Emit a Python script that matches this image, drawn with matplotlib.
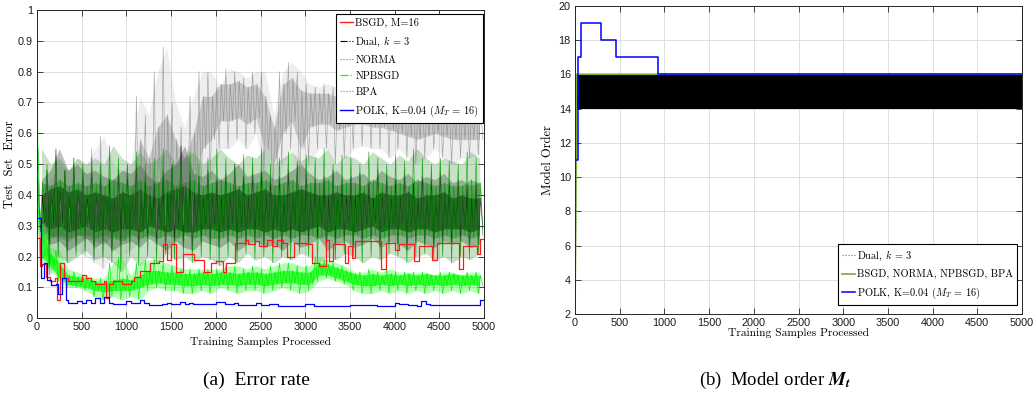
import numpy as np
import matplotlib
matplotlib.use('Agg')
import matplotlib.pyplot as plt

# ---------------- data ----------------
bin_starts = list(range(0, 5000, 100))   # 100-sample bins for the noisy series

# outer envelope (spike extremes) and inner (dense core) per bin
dual_hi = [0.45, 0.48, 0.55, 0.48, 0.50, 0.47, 0.48, 0.46, 0.45, 0.48,
           0.47, 0.50, 0.46, 0.44, 0.48, 0.50, 0.56, 0.47, 0.46, 0.48,
           0.45, 0.47, 0.50, 0.46, 0.47, 0.48, 0.45, 0.46, 0.48, 0.50,
           0.47, 0.45, 0.46, 0.48, 0.45, 0.46, 0.47, 0.44, 0.48, 0.46,
           0.45, 0.47, 0.44, 0.46, 0.45, 0.47, 0.44, 0.45, 0.43, 0.44]
dual_lo = [0.28, 0.24, 0.25, 0.22, 0.24, 0.26, 0.23, 0.25, 0.22, 0.24,
           0.25, 0.23, 0.26, 0.24, 0.22, 0.25, 0.23, 0.22, 0.25, 0.24,
           0.23, 0.25, 0.22, 0.24, 0.25, 0.23, 0.24, 0.22, 0.25, 0.23,
           0.24, 0.26, 0.22, 0.24, 0.25, 0.23, 0.24, 0.26, 0.23, 0.25,
           0.24, 0.22, 0.25, 0.24, 0.23, 0.25, 0.24, 0.25, 0.23, 0.24]
dual_in_hi = [0.40, 0.42, 0.43, 0.41, 0.42, 0.40, 0.41, 0.40, 0.39, 0.41,
              0.40, 0.42, 0.40, 0.39, 0.41, 0.42, 0.43, 0.41, 0.40, 0.41,
              0.40, 0.41, 0.42, 0.40, 0.41, 0.42, 0.40, 0.40, 0.41, 0.42,
              0.41, 0.40, 0.40, 0.41, 0.40, 0.40, 0.41, 0.39, 0.41, 0.40,
              0.40, 0.41, 0.39, 0.40, 0.40, 0.41, 0.39, 0.40, 0.39, 0.39]
dual_in_lo = [0.31, 0.29, 0.30, 0.28, 0.29, 0.30, 0.28, 0.29, 0.28, 0.29,
              0.29, 0.28, 0.30, 0.29, 0.28, 0.29, 0.28, 0.28, 0.29, 0.29,
              0.28, 0.29, 0.28, 0.29, 0.29, 0.28, 0.29, 0.28, 0.29, 0.28,
              0.29, 0.30, 0.28, 0.29, 0.29, 0.28, 0.29, 0.30, 0.28, 0.29,
              0.29, 0.28, 0.29, 0.29, 0.28, 0.29, 0.29, 0.29, 0.28, 0.29]

norma_hi = [0.55, 0.50, 0.52, 0.48, 0.52, 0.50, 0.52, 0.50, 0.56, 0.52,
            0.50, 0.54, 0.50, 0.52, 0.55, 0.50, 0.52, 0.54, 0.50, 0.52,
            0.55, 0.52, 0.50, 0.53, 0.52, 0.55, 0.50, 0.52, 0.54, 0.51,
            0.53, 0.52, 0.55, 0.50, 0.53, 0.52, 0.50, 0.54, 0.52, 0.50,
            0.53, 0.51, 0.55, 0.52, 0.50, 0.52, 0.51, 0.50, 0.54, 0.52]
norma_lo = [0.30, 0.14, 0.20, 0.18, 0.20, 0.22, 0.19, 0.20, 0.18, 0.15,
            0.20, 0.17, 0.20, 0.18, 0.21, 0.19, 0.20, 0.18, 0.20, 0.19,
            0.17, 0.20, 0.18, 0.21, 0.19, 0.20, 0.18, 0.20, 0.19, 0.21,
            0.20, 0.18, 0.20, 0.19, 0.21, 0.20, 0.18, 0.20, 0.19, 0.21,
            0.20, 0.18, 0.20, 0.21, 0.19, 0.20, 0.18, 0.20, 0.19, 0.21]
norma_in_hi = [0.44, 0.43, 0.45, 0.43, 0.44, 0.43, 0.44, 0.43, 0.45, 0.44,
               0.43, 0.45, 0.43, 0.44, 0.45, 0.43, 0.44, 0.45, 0.43, 0.44,
               0.45, 0.44, 0.43, 0.44, 0.44, 0.45, 0.43, 0.44, 0.45, 0.43,
               0.44, 0.44, 0.45, 0.43, 0.44, 0.44, 0.43, 0.45, 0.44, 0.43,
               0.44, 0.43, 0.45, 0.44, 0.43, 0.44, 0.43, 0.43, 0.45, 0.44]
norma_in_lo = [0.32, 0.26, 0.27, 0.26, 0.27, 0.27, 0.26, 0.27, 0.26, 0.25,
               0.27, 0.26, 0.27, 0.26, 0.27, 0.26, 0.27, 0.26, 0.27, 0.26,
               0.26, 0.27, 0.26, 0.27, 0.26, 0.27, 0.26, 0.27, 0.26, 0.27,
               0.27, 0.26, 0.27, 0.26, 0.27, 0.27, 0.26, 0.27, 0.26, 0.27,
               0.27, 0.26, 0.27, 0.27, 0.26, 0.27, 0.26, 0.27, 0.26, 0.27]

npbsgd_hi = [0.35, 0.23, 0.22, 0.16, 0.15, 0.14, 0.13, 0.13, 0.18, 0.20,
             0.14, 0.18, 0.19, 0.19, 0.18, 0.17, 0.16, 0.16, 0.16, 0.16,
             0.16, 0.17, 0.17, 0.16, 0.17, 0.16, 0.17, 0.18, 0.18, 0.17,
             0.17, 0.20, 0.19, 0.18, 0.17, 0.15, 0.15, 0.16, 0.15, 0.16,
             0.15, 0.15, 0.15, 0.15, 0.14, 0.15, 0.15, 0.14, 0.15, 0.15]
npbsgd_lo = [0.18, 0.16, 0.12, 0.10, 0.10, 0.09, 0.07, 0.06, 0.07, 0.06,
             0.07, 0.06, 0.09, 0.10, 0.09, 0.09, 0.08, 0.08, 0.09, 0.08,
             0.10, 0.09, 0.08, 0.09, 0.09, 0.08, 0.09, 0.10, 0.09, 0.08,
             0.09, 0.12, 0.13, 0.12, 0.11, 0.09, 0.08, 0.08, 0.09, 0.08,
             0.09, 0.08, 0.09, 0.08, 0.09, 0.08, 0.09, 0.08, 0.09, 0.08]
npbsgd_in_hi = [0.30, 0.21, 0.18, 0.14, 0.135, 0.13, 0.12, 0.115, 0.125, 0.13,
                0.125, 0.14, 0.155, 0.155, 0.15, 0.15, 0.145, 0.145, 0.15, 0.145,
                0.15, 0.15, 0.145, 0.15, 0.15, 0.145, 0.15, 0.155, 0.155, 0.15,
                0.15, 0.18, 0.175, 0.165, 0.155, 0.145, 0.14, 0.145, 0.14, 0.145,
                0.14, 0.145, 0.14, 0.145, 0.14, 0.14, 0.145, 0.14, 0.14, 0.14]
npbsgd_in_lo = [0.20, 0.17, 0.13, 0.11, 0.105, 0.10, 0.09, 0.085, 0.09, 0.09,
                0.09, 0.10, 0.11, 0.115, 0.11, 0.11, 0.105, 0.105, 0.11, 0.105,
                0.11, 0.11, 0.105, 0.11, 0.11, 0.105, 0.11, 0.115, 0.115, 0.11,
                0.11, 0.14, 0.14, 0.13, 0.12, 0.11, 0.105, 0.105, 0.11, 0.105,
                0.11, 0.105, 0.11, 0.105, 0.11, 0.105, 0.11, 0.105, 0.11, 0.105]
npbsgd_head_x = [0, 5, 15]
npbsgd_head_y = [0.55, 0.80, 0.34]

bpa_hi = [0.42, 0.45, 0.50, 0.48, 0.52, 0.50, 0.55, 0.59, 0.50, 0.48,
          0.50, 0.72, 0.66, 0.80, 0.88, 0.70, 0.62, 0.72, 0.80, 0.80,
          0.75, 0.81, 0.80, 0.78, 0.80, 0.80, 0.66, 0.80, 0.83, 0.80,
          0.76, 0.75, 0.76, 0.75, 0.74, 0.76, 0.75, 0.74, 0.75, 0.74,
          0.72, 0.74, 0.73, 0.74, 0.72, 0.71, 0.70, 0.72, 0.70, 0.70]
bpa_lo = [0.25, 0.22, 0.20, 0.18, 0.22, 0.20, 0.18, 0.16, 0.22, 0.20,
          0.22, 0.25, 0.28, 0.26, 0.30, 0.25, 0.30, 0.28, 0.40, 0.45,
          0.55, 0.55, 0.58, 0.55, 0.60, 0.45, 0.40, 0.50, 0.55, 0.42,
          0.50, 0.55, 0.55, 0.50, 0.52, 0.55, 0.56, 0.55, 0.55, 0.52,
          0.55, 0.52, 0.50, 0.52, 0.55, 0.52, 0.50, 0.52, 0.52, 0.53]
bpa_in_hi = [0.36, 0.37, 0.38, 0.36, 0.38, 0.37, 0.38, 0.40, 0.37, 0.36,
             0.38, 0.58, 0.52, 0.62, 0.66, 0.58, 0.52, 0.60, 0.72, 0.72,
             0.76, 0.76, 0.77, 0.75, 0.76, 0.72, 0.62, 0.76, 0.78, 0.74,
             0.73, 0.73, 0.73, 0.72, 0.72, 0.73, 0.72, 0.72, 0.72, 0.71,
             0.70, 0.70, 0.70, 0.70, 0.69, 0.69, 0.68, 0.69, 0.68, 0.68]
bpa_in_lo = [0.28, 0.27, 0.26, 0.25, 0.27, 0.26, 0.25, 0.24, 0.27, 0.26,
             0.28, 0.36, 0.36, 0.38, 0.40, 0.36, 0.38, 0.40, 0.55, 0.58,
             0.64, 0.64, 0.65, 0.63, 0.65, 0.55, 0.50, 0.60, 0.64, 0.55,
             0.62, 0.63, 0.63, 0.61, 0.62, 0.63, 0.63, 0.62, 0.62, 0.61,
             0.60, 0.59, 0.58, 0.59, 0.60, 0.59, 0.58, 0.58, 0.58, 0.58]

bsgd_x = [0, 30, 55, 100, 150, 200, 225, 260, 300, 350, 500, 550, 600, 650,
          750, 775, 800, 850, 950, 1050, 1090, 1150, 1260, 1360, 1410, 1450,
          1500, 1550, 1630, 1760, 1870, 1950, 2000, 2080, 2110, 2220, 2325,
          2360, 2440, 2480, 2570, 2630, 2680, 2750, 2800, 2880, 3010, 3080,
          3150, 3230, 3270, 3310, 3440, 3480, 3520, 3560, 3850, 3900, 4000,
          4050, 4220, 4270, 4420, 4470, 4720, 4770, 4920, 4950, 5000]
bsgd_y = [0.26, 0.17, 0.175, 0.135, 0.12, 0.13, 0.06, 0.18, 0.13, 0.12, 0.14,
          0.13, 0.12, 0.11, 0.12, 0.065, 0.11, 0.12, 0.11, 0.12, 0.135, 0.155,
          0.18, 0.185, 0.24, 0.19, 0.24, 0.15, 0.21, 0.19, 0.15, 0.18, 0.185,
          0.15, 0.18, 0.245, 0.255, 0.24, 0.25, 0.235, 0.255, 0.235, 0.255,
          0.245, 0.20, 0.245, 0.24, 0.18, 0.17, 0.255, 0.185, 0.24, 0.18,
          0.235, 0.195, 0.25, 0.16, 0.245, 0.22, 0.24, 0.185, 0.235, 0.19,
          0.245, 0.16, 0.235, 0.21, 0.258, 0.258]

polk_x = [0, 45, 78, 115, 153, 212, 238, 276, 320, 350, 450, 500, 550, 600,
          650, 700, 750, 800, 850, 1000, 1050, 1150, 1200, 1250, 1400, 1450,
          1500, 1600, 1650, 1700, 1750, 2000, 2100, 2200, 2250, 2450, 2500,
          2600, 2700, 3000, 3100, 3500, 3800, 4000, 4050, 4150, 4250, 4300,
          4350, 4400, 4950, 5000]
polk_y = [0.324, 0.13, 0.18, 0.123, 0.107, 0.11, 0.08, 0.13, 0.06, 0.05,
          0.055, 0.05, 0.06, 0.05, 0.065, 0.05, 0.068, 0.05, 0.045, 0.055,
          0.05, 0.058, 0.05, 0.042, 0.045, 0.05, 0.045, 0.052, 0.045, 0.05,
          0.045, 0.052, 0.046, 0.05, 0.042, 0.05, 0.042, 0.045, 0.04, 0.045,
          0.04, 0.044, 0.04, 0.05, 0.046, 0.042, 0.04, 0.057, 0.045, 0.042,
          0.058, 0.058]

# model order panel
polk_order_x = [0, 37, 67, 291, 455, 933, 5000]
polk_order_y = [11, 17, 19, 18, 17, 16, 16]
bsgd_order_x = [0, 20, 5000]
bsgd_order_y = [2, 16, 16]
dual_order_x = [0, 25, 5000]
dual_order_lo = [2, 14, 14]
dual_order_hi = [2, 16, 16]

# ---------------- styling ----------------
plt.rcParams['mathtext.fontset'] = 'cm'
plt.rcParams['axes.unicode_minus'] = False
LBL = dict(family='cmr10', fontsize=8.3)
TICKFONT = 'Liberation Sans'
SPINE = '0.15'
LEGPROP = dict(family='cmr10', size=7.5)


def zigzag(starts, hi, lo, in_hi, in_lo):
    # path through the four per-bin readings: peak, trough, core top, core bottom
    xs, ys = [], []
    for s, a, b, c, d in zip(starts, hi, lo, in_hi, in_lo):
        xs += [s + 12, s + 37, s + 62, s + 87]
        ys += [a, b, c, d]
    return xs, ys


def band(ax, hi, lo, in_hi, in_lo, color, a_out, a_in, line_color, a_line,
         lw=0.45, head=None):
    ax.fill_between(bin_centers, lo, hi, color=color, alpha=a_out,
                    linewidth=0)
    ax.fill_between(bin_centers, in_lo, in_hi, color=color, alpha=a_in,
                    linewidth=0)
    zx, zy = zigzag(bin_starts, hi, lo, in_hi, in_lo)
    if head is not None:
        zx = head[0] + zx
        zy = head[1] + zy
    ax.plot(zx, zy, color=line_color, linewidth=lw, alpha=a_line)


def style_axes(ax):
    ax.grid(True, color='0.87', linewidth=0.7)
    ax.set_axisbelow(True)
    ax.tick_params(direction='in', top=True, right=True, length=4,
                   width=0.6, colors=SPINE, labelsize=7.8, pad=3)
    for lab in ax.get_xticklabels() + ax.get_yticklabels():
        lab.set_family(TICKFONT)
        lab.set_color('0.1')
    for sp in ax.spines.values():
        sp.set_color(SPINE)
        sp.set_linewidth(0.7)


fig = plt.figure(figsize=(10.35, 4.0), dpi=100)
ax1 = fig.add_axes([37 / 1035, 1 - 318.3 / 400, 447 / 1035, 308.3 / 400])
ax2 = fig.add_axes([575 / 1035, 1 - 314.3 / 400, 447 / 1035, 308.6 / 400])

bin_centers = [s + 50 for s in bin_starts]

band(ax1, bpa_hi, bpa_lo, bpa_in_hi, bpa_in_lo, '0.55', 0.14, 0.4, '0.5', 0.7)
band(ax1, dual_hi, dual_lo, dual_in_hi, dual_in_lo, 'black', 0.25, 0.55,
     'black', 0.75)
band(ax1, norma_hi, norma_lo, norma_in_hi, norma_in_lo, '#007a00', 0.22, 0.35,
     '#009a00', 0.85)
band(ax1, npbsgd_hi, npbsgd_lo, npbsgd_in_hi, npbsgd_in_lo, '#00ff00', 0.3,
     0.7, '#00ee00', 0.9, lw=0.5, head=(npbsgd_head_x, npbsgd_head_y))

ax1.step(bsgd_x, bsgd_y, where='post', color='#ff1a1a', linewidth=0.9)
ax1.step(polk_x, polk_y, where='post', color='#0000ff', linewidth=0.9)

# legend proxies
h_bsgd, = ax1.plot([], [], color='#ff2020', linewidth=1.0)
h_dual, = ax1.plot([], [], color='black', linestyle='-.', linewidth=0.8)
h_norma, = ax1.plot([], [], color='#30a030', linestyle=':', linewidth=0.8)
h_npb, = ax1.plot([], [], color='#00ff00', linestyle='-.', linewidth=0.9)
h_bpa, = ax1.plot([], [], color='0.5', linestyle=':', linewidth=0.8)
h_polk, = ax1.plot([], [], color='#0000ff', linewidth=1.0)
leg1 = ax1.legend([h_bsgd, h_dual, h_norma, h_npb, h_bpa, h_polk],
                  ['BSGD, M=16', r'Dual, $k$ = 3', 'NORMA', 'NPBSGD', 'BPA',
                   r'POLK, K=0.04 ($M_T$ = 16)'],
                  loc='upper right', bbox_to_anchor=(0.998, 0.987),
                  borderaxespad=0, prop=LEGPROP,
                  fancybox=False, framealpha=1, edgecolor='black',
                  handlelength=1.25, handletextpad=0.2, labelspacing=0.62,
                  borderpad=0.38)
leg1.get_frame().set_linewidth(0.8)

ax1.set_xlim(0, 5000)
ax1.set_ylim(0, 1)
ax1.set_xticks(range(0, 5001, 500))
ax1.set_yticks(np.arange(0, 1.01, 0.1))
ax1.set_yticklabels(['0', '0.1', '0.2', '0.3', '0.4', '0.5', '0.6', '0.7',
                     '0.8', '0.9', '1'])
ax1.set_xlabel('Training Samples Processed', labelpad=3, **LBL)
ax1.set_ylabel('Test  Set  Error', labelpad=1, family='cmr10', fontsize=9)
style_axes(ax1)

# ---------------- right panel ----------------
ax2.fill_between(dual_order_x[1:], dual_order_lo[1:], dual_order_hi[1:],
                 color='black', linewidth=0)
hd2, = ax2.plot(dual_order_x[:2], dual_order_lo[:2], color='0.45',
                linestyle=':', linewidth=0.8)
hb2, = ax2.plot(bsgd_order_x, bsgd_order_y, color='#77ac30', linewidth=1.2)
hp2, = ax2.step(polk_order_x, polk_order_y, where='post', color='#0000ff',
                linewidth=1.1)
leg2 = ax2.legend([hd2, hb2, hp2],
                  [r'Dual, $k$ = 3', 'BSGD, NORMA, NPBSGD, BPA',
                   r'POLK, K=0.04 ($M_T$ = 16)'],
                  loc='lower right', bbox_to_anchor=(0.989, 0.03),
                  borderaxespad=0, prop=LEGPROP,
                  fancybox=False, framealpha=1, edgecolor='black',
                  handlelength=1.25, handletextpad=0.2, labelspacing=0.62,
                  borderpad=0.38)
leg2.get_frame().set_linewidth(0.8)
ax2.set_xlim(0, 5000)
ax2.set_ylim(2, 20)
ax2.set_xticks(range(0, 5001, 500))
ax2.set_yticks(range(2, 21, 2))
ax2.set_xlabel('Training Samples Processed', labelpad=0, **LBL)
ax2.set_ylabel('Model Order', labelpad=3, family='cmr10', fontsize=9)
style_axes(ax2)

# captions
fig.text(256 / 1035, 1 - 380 / 400, '(a)  Error rate', ha='center',
         va='center', family='Liberation Serif', fontsize=14)
fig.text(775 / 1035, 1 - 380 / 400, r'(b)  Model order $\mathbfit{M_t}$',
         ha='center', va='center', family='Liberation Serif', fontsize=13.5,
         math_fontfamily='stix')

fig.savefig('out.png', dpi=100)
